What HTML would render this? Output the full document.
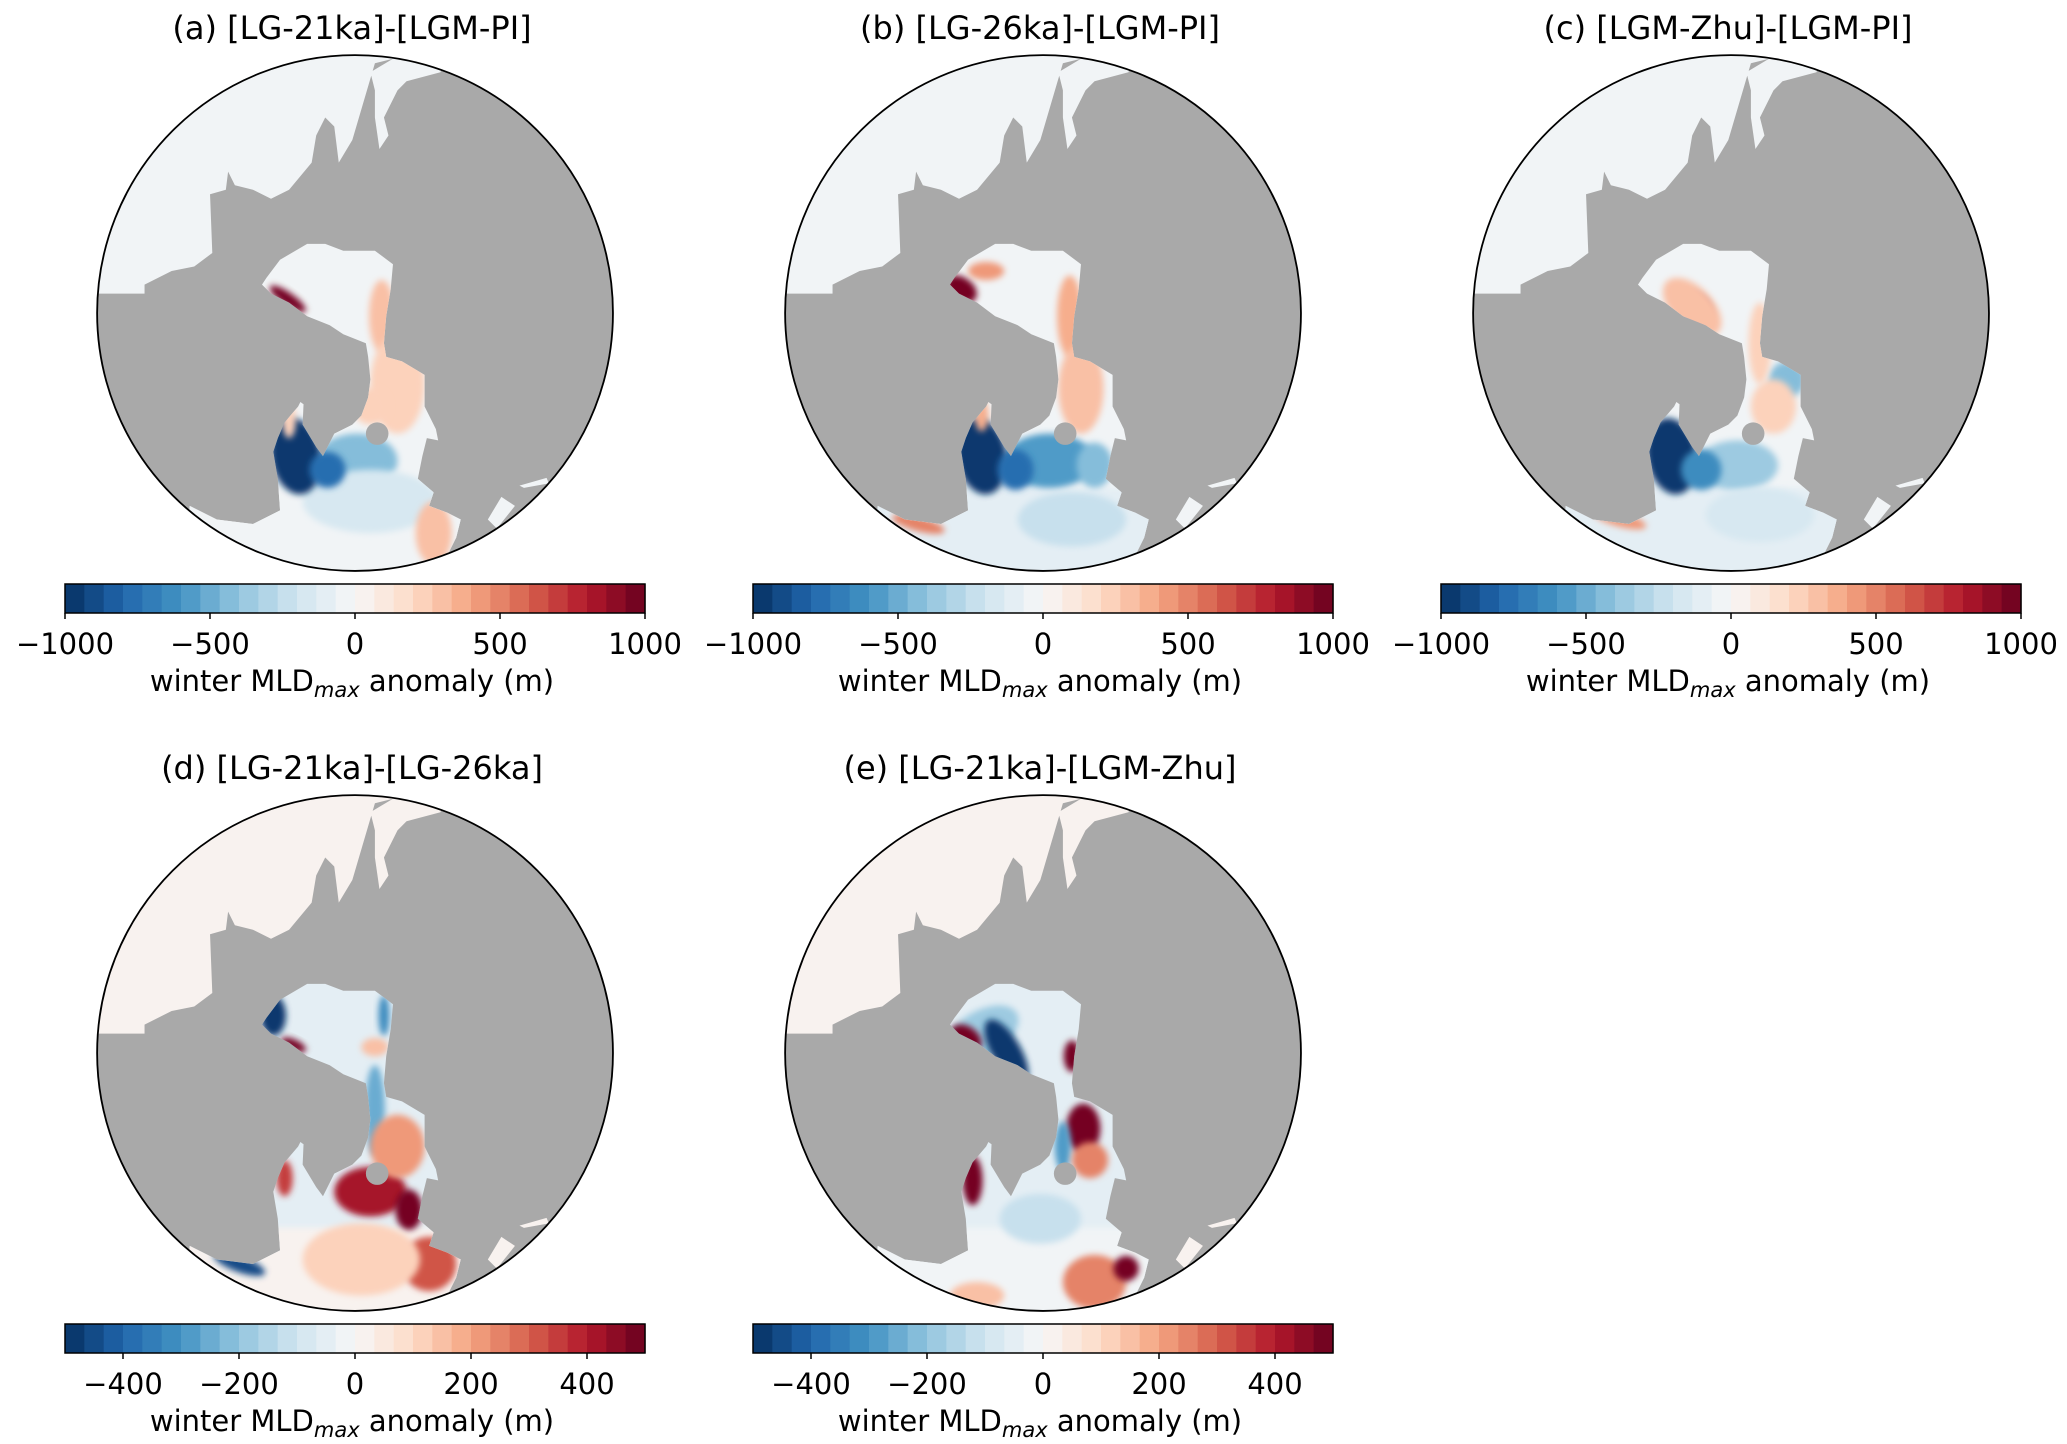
<!DOCTYPE html>
<html><head><meta charset="utf-8"><style>
html,body{margin:0;padding:0;background:#fff;}
svg{display:block;font-family:"DejaVu Sans","Liberation Sans",sans-serif;}
</style></head><body>
<svg id="fig" width="2067" height="1444" viewBox="0 0 2067 1444" xmlns="http://www.w3.org/2000/svg">
<defs>
<filter id="blur" x="-50%" y="-50%" width="200%" height="200%"><feGaussianBlur stdDeviation="7"/></filter>
<clipPath id="circ"><circle cx="786" cy="693" r="571"/></clipPath>
</defs>
</svg>
<script>
// panel data
const panelTitles = ["(a) [LG-21ka]-[LGM-PI]","(b) [LG-26ka]-[LGM-PI]","(c) [LGM-Zhu]-[LGM-PI]","(d) [LG-21ka]-[LG-26ka]","(e) [LG-21ka]-[LGM-Zhu]"];
const panelRanges = [1000,1000,1000,500,500];
const tickLabels1000 = [-1000,-500,0,500,1000];
const tickLabels500 = [-400,-200,0,200,400];
const baseTopLeft = [-25,-25,-25,15,10];
const baseBay = [-20,-10,-10,-40,-40];
const baseBottom = [-60,-120,-100,30,-20];
// anomaly blobs per panel: [cx, cy, rx, ry, angle, value]  (map units)
const blobsA = [[790,1020,90,60,0,-420],[820,1110,150,70,0,-150],[655,1010,55,85,-10,-1000],[725,1040,40,40,0,-800],[637,662,48,14,35,1000],[845,700,28,80,0,280],[880,850,60,110,0,230],[960,1180,40,70,0,330],[640,930,15,40,0,250],[820,900,40,40,0,200]];
const blobsB = [[800,1020,100,60,0,-600],[900,1030,40,50,0,-450],[850,1150,120,60,0,-250],[650,1010,55,85,-10,-1000],[725,1040,40,45,0,-750],[605,640,38,26,35,1000],[660,600,40,20,0,400],[845,700,28,90,0,350],[870,860,50,100,0,300],[510,1160,60,16,15,500],[650,920,15,35,0,350]];
const blobsC = [[800,1030,90,55,0,-350],[850,1140,120,60,0,-180],[655,1010,55,85,-10,-1000],[720,1040,45,45,0,-650],[910,840,40,40,0,-450],[710,680,40,26,45,950],[700,680,80,45,45,300],[850,760,25,90,0,250],[880,900,50,60,0,250],[540,1150,60,16,15,450],[680,830,15,60,0,150]];
const blobsD = [[605,610,28,45,0,-500],[650,675,30,12,25,500],[850,610,12,45,0,-320],[830,820,22,100,0,-250],[820,1000,80,55,0,420],[905,1040,30,45,0,500],[950,1160,60,60,0,320],[880,900,60,70,0,230],[630,970,18,40,0,350],[530,1160,60,18,20,-450],[800,1150,130,80,0,100],[830,680,30,20,0,150]];
const blobsE = [[650,650,90,50,-30,-200],[705,690,32,80,-30,-500],[615,660,38,26,35,500],[850,700,18,35,0,500],[875,860,38,55,0,500],[830,900,18,55,0,-300],[890,930,40,40,0,250],[630,975,22,55,0,500],[780,1060,90,55,0,-130],[900,1200,70,60,0,250],[970,1170,28,28,0,500],[640,1230,60,30,0,150]];
const panelBlobs = [blobsA,blobsB,blobsC,blobsD,blobsE];
const panelOffsets = [[0,0],[688,0],[1376,0],[0,740],[688,740]];

const NS="http://www.w3.org/2000/svg";
const svg=document.getElementById('fig');
const anchors=["#053061","#2166ac","#4393c3","#92c5de","#d1e5f0","#f7f7f7","#fddbc7","#f4a582","#d6604d","#b2182b","#67001f"];
function hex(h){return [1,3,5].map(i=>parseInt(h.substr(i,2),16));}
function cmap(t){t=Math.max(0,Math.min(1,t));const p=t*10;const i=Math.min(9,Math.floor(p));const f=p-i;const a=hex(anchors[i]),b=hex(anchors[i+1]);return 'rgb('+a.map((v,k)=>Math.round(v+(b[k]-v)*f)).join(',')+')';}
function colorFor(v,range){const n=30;let t=(v+range)/(2*range);let k=Math.min(n-1,Math.max(0,Math.floor(t*n)));return cmap((k+0.5)/n);}
function mk(tag,attrs,parent){const e=document.createElementNS(NS,tag);for(const k in attrs)e.setAttribute(k,attrs[k]);parent.appendChild(e);return e;}

const topLeftPts="100,100 1000,100 975,160 900,180 880,200 850,260 860,300 840,330 830,260 830,200 820,160 870,130 830,140 780,310 750,360 740,280 720,260 700,300 690,360 640,420 600,440 560,420 520,410 505,380 500,420 465,430 470,560 430,590 380,600 320,630 320,650 150,650";
const seaPts="590,615 620,575 680,540 720,540 760,555 830,555 870,585 865,640 855,700 850,760 855,790 890,800 940,830 940,900 965,950 970,975 945,970 935,1010 925,1060 960,1090 950,1120 990,1135 1020,1150 1010,1190 985,1240 1100,1320 400,1320 420,1120 480,1150 560,1160 620,1130 615,1060 605,1000 615,970 630,935 660,900 665,890 672,895 670,940 700,990 715,1010 740,960 780,940 800,920 815,880 820,840 815,790 810,760 760,740 730,720 680,700 640,670 600,650 580,630";

panelTitles.forEach((title,pi)=>{
  const [ox,oy]=panelOffsets[pi];const range=panelRanges[pi];
  const g=mk('g',{transform:`translate(${ox},${oy})`},svg);
  
  
  const t=mk('text',{x:352,y:39,'text-anchor':'middle','font-size':32,fill:'#000'},g);
  t.textContent=title;
  
  
  const m=mk('g',{transform:'scale(0.4517)'},g);
  
  
  const c=mk('g',{'clip-path':'url(#circ)'},m);
  mk('rect',{x:200,y:100,width:1200,height:1200,fill:'#a9a9a9'},c);
  const tl=mk('polygon',{points:topLeftPts,fill:colorFor(baseTopLeft[pi],range)},c);
  
  
  const sea=mk('polygon',{points:seaPts,fill:colorFor(baseBay[pi],range)},c);
  
  
  const clipId='sea'+pi;
  const cp=mk('clipPath',{id:clipId},svg.querySelector('defs'));
  mk('polygon',{points:seaPts},cp);
  const inner=mk('g',{'clip-path':`url(#${clipId})`},c);
  mk('rect',{x:400,y:1080,width:700,height:250,fill:colorFor(baseBottom[pi],range),filter:'url(#blur)'},inner);
  panelBlobs[pi].forEach(b=>{
    const e=mk('ellipse',{cx:b[0],cy:b[1],rx:b[2],ry:b[3],transform:`rotate(${b[4]} ${b[0]} ${b[1]})`,fill:colorFor(b[5],range),filter:'url(#blur)'},inner);
    
    
  });
  mk('circle',{cx:835,cy:960,r:25,fill:'#a9a9a9'},c);
  mk('polygon',{points:'1150,1075 1210,1058 1215,1070 1160,1080',fill:colorFor(baseTopLeft[pi],range)},c);
  mk('polygon',{points:'1080,1150 1110,1100 1140,1120 1100,1170',fill:colorFor(baseTopLeft[pi],range)},c);
  mk('circle',{cx:786,cy:693,r:571,fill:'none',stroke:'#000','stroke-width':4},m);
  // colorbar
  const cb=mk('g',{},g);
  
  
  const x0=65,x1=645,y0=584,h=29,n=30;
  for(let k=0;k<n;k++){mk('rect',{x:x0+(x1-x0)*k/n,y:y0,width:(x1-x0)/n+0.6,height:h,fill:cmap((k+0.5)/n)},cb);}
  mk('rect',{x:x0,y:y0,width:x1-x0,height:h,fill:'none',stroke:'#000','stroke-width':1.5},cb);
  const ticks=range===1000?tickLabels1000:tickLabels500;
  ticks.forEach(v=>{
    const x=x0+(x1-x0)*(v+range)/(2*range);
    mk('line',{x1:x,x2:x,y1:y0+h,y2:y0+h+6,stroke:'#000','stroke-width':1.5},cb);
    const tx=mk('text',{x:x,y:654,'text-anchor':'middle','font-size':29,fill:'#000'},cb);
    tx.textContent=(v<0?'\u2212'+Math.abs(v):String(v));
    
    
  });
  const lab=mk('text',{x:352,y:691,'text-anchor':'middle','font-size':29,fill:'#000'},cb);
  lab.innerHTML='winter MLD<tspan font-style="italic" font-size="21" dy="6">max</tspan><tspan dy="-6"> anomaly (m)</tspan>';
  
  
});
</script>
</body></html>
